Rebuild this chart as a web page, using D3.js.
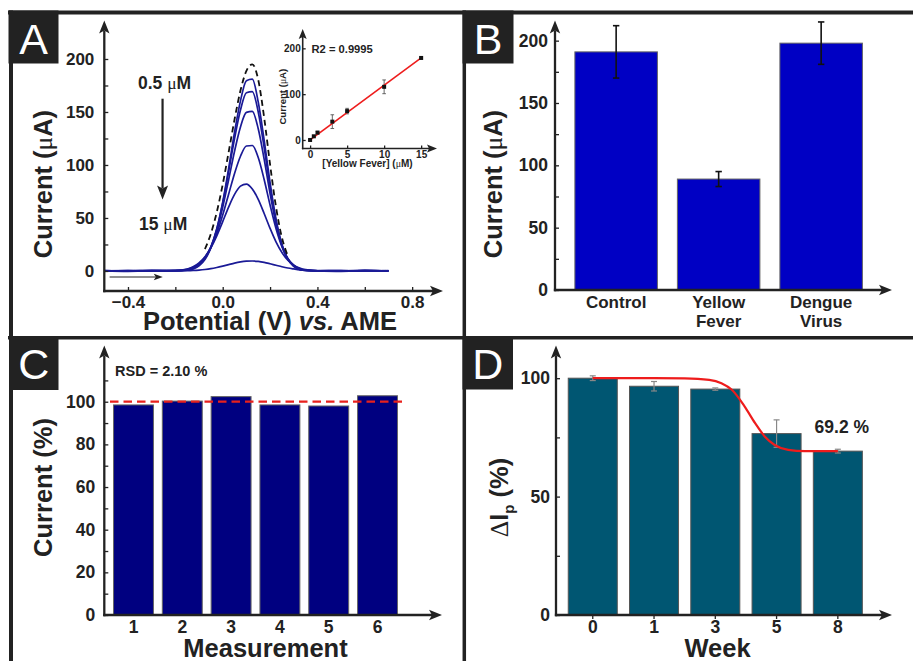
<!DOCTYPE html>
<html>
<head>
<meta charset="utf-8">
<script src="https://cdn.jsdelivr.net/npm/d3@7"></script>
<style>
  html, body { margin: 0; padding: 0; background: #fff; }
  svg { display: block; }
</style>
</head>
<body>
<svg id="fig" width="913" height="661"></svg>
<script>
// ---------- Panel A: differential pulse voltammograms ----------
const dpvPotential = [-0.5, -0.4, -0.3, -0.2, -0.15, -0.125, -0.1, -0.075, -0.05, -0.025, 0, 0.025, 0.05, 0.075,
                      0.1, 0.125, 0.15, 0.175, 0.2, 0.225, 0.25, 0.275, 0.3, 0.325, 0.35, 0.4, 0.5, 0.6, 0.7];
const dpv05uM = [0.3, -0.2, 0.4, 0.2, 0.8, 2.0, 4.9, 10.8, 21.7, 39.3, 64.8, 96.6, 130.9, 160.5,
                 179.5, 181.0, 159.4, 123.4, 83.4, 49.1, 25.3, 11.4, 4.5, 1.5, 0.5, 0.1, -0.3, 0.4, 0.2];
const dpv1uM  = [0.2, 0.4, -0.2, 0.3, 0.9, 2.4, 5.5, 11.7, 22.6, 39.8, 64.0, 93.7, 124.9, 151.8,
                 168.2, 169.2, 150.0, 116.4, 79.0, 46.9, 24.4, 11.1, 4.4, 1.5, 0.5, 0.2, 0.3, -0.2, 0.1];
const dpv3uM  = [-0.2, 0.3, 0.2, 0.4, 1.1, 2.7, 5.9, 12.1, 22.5, 38.4, 60.1, 86.1, 113.0, 135.9,
                 149.6, 150.5, 134.2, 105.5, 73.0, 44.5, 23.9, 11.3, 4.7, 1.7, 0.6, 0.3, 0.2, 0.5, -0.1];
const dpv5uM  = [0.4, 0.1, 0.5, 0.3, 1.6, 3.4, 6.8, 12.8, 22.2, 35.5, 52.7, 72.4, 92.0, 108.2,
                 117.9, 118.4, 107.0, 86.3, 62.2, 40.1, 23.0, 11.8, 5.4, 2.2, 0.8, 0.2, -0.2, 0.3, 0.2];
const dpv10uM = [0.1, -0.3, 0.3, 0.6, 1.9, 3.9, 7.6, 13.4, 21.9, 33.2, 46.6, 60.3, 72.2, 80.0,
                 82.0, 77.4, 67.5, 54.2, 40.2, 27.5, 17.4, 10.1, 5.4, 2.7, 1.2, 0.2, 0.4, -0.2, 0.3];
const dpv15uM = [0.2, 0.1, -0.2, 0.1, 0.25, 0.47, 0.84, 1.4, 2.2, 3.3, 4.6, 6.0, 7.4, 8.5,
                 9.2, 9.4, 9.0, 8.1, 6.8, 5.4, 4.0, 2.8, 1.9, 1.1, 0.7, 0.2, 0.1, 0.3, -0.1];
// blank electrode (dashed envelope)
const blankPotential = [-0.075, -0.05, -0.025, 0, 0.025, 0.05, 0.075, 0.1, 0.125, 0.15, 0.175, 0.2, 0.225, 0.25, 0.275];
const blankCurrent   = [20.7, 35.2, 55.5, 81.7, 112.0, 143.0, 170.2, 188.8, 195.0, 180.4, 144.7, 100.5, 60.5, 31.5, 14.2];
const dpvMajorY = [0, 50, 100, 150, 200];
const dpvMinorY = [25, 75, 125, 175];
const dpvMajorX = [-0.4, 0, 0.4, 0.8];
const dpvMinorX = [-0.2, 0.2, 0.6];

// inset: calibration
const calConc    = [0, 0.5, 1, 3, 5, 10, 15];
const calCurrent = [0, 8, 16, 40, 63, 116, 179];
const calError   = [1, 2, 3, 15, 6, 15, 2];
const calFitConc = [0, 15];
const calFitCurrent = [0.4, 179.2];
const calTicksX = [0, 5, 10, 15];
const calTicksY = [0, 100, 200];

// ---------- Panel B: selectivity ----------
const targets = ['Control', 'Yellow Fever', 'Dengue Virus'];
const targetCurrent = [191, 89, 198];
const targetError = [21, 6, 17];
const selMajorY = [0, 50, 100, 150, 200];
const selMinorY = [25, 75, 125, 175];

// ---------- Panel C: reproducibility ----------
const runs = ['1', '2', '3', '4', '5', '6'];
const runCurrent = [98.5, 100.3, 102.4, 98.5, 98.0, 102.8];
const runReference = 100;
const repMajorY = [0, 20, 40, 60, 80, 100];
const repMinorY = [10, 30, 50, 70, 90, 110];

// ---------- Panel D: stability ----------
const weeks = ['0', '1', '3', '5', '8'];
const retention = [100, 96.6, 95.4, 76.6, 69.2];
const retentionError = [1, 2, 0.5, 5.8, 0.8];
// sigmoidal trend, x in bar-slot units (0 = week 0 ... 4 = week 8)
const trendSlot  = [0, 1, 1.5, 1.9, 2.1, 2.27, 2.48, 2.65, 2.81, 2.97, 3.19, 3.46, 4];
const trendValue = [100, 100, 99.9, 99.3, 97.9, 95.1, 88.0, 81.0, 75.3, 71.8, 69.7, 69.2, 69.2];
const stabMajorY = [0, 50, 100];
const stabMinorY = [25, 75];

// ---------- drawing helpers ----------
const FONT = '"Liberation Sans", Arial, Helvetica, sans-serif';
const SERIF = '"Liberation Serif", "Times New Roman", serif';
const INK = '#222';
const svg = d3.select('#fig');
svg.append('rect').attr('width', 913).attr('height', 661).attr('fill', '#fff');

function arrowLine(g, x1, y1, x2, y2, o = {}) {
  const w = o.width ?? 2.3, hl = o.head ?? 13, hw = o.half ?? 5.2, notch = o.notch ?? 3;
  const a = Math.atan2(y2 - y1, x2 - x1), ux = Math.cos(a), uy = Math.sin(a);
  const px = -uy, py = ux;
  g.append('line')
    .attr('x1', x1 - ux * w / 2).attr('y1', y1 - uy * w / 2)
    .attr('x2', x2 - ux * (hl - notch)).attr('y2', y2 - uy * (hl - notch))
    .attr('stroke', o.color ?? INK).attr('stroke-width', w);
  const bx = x2 - ux * hl, by = y2 - uy * hl;
  const pts = [[x2, y2], [bx + px * hw, by + py * hw], [x2 - ux * (hl - notch), y2 - uy * (hl - notch)], [bx - px * hw, by - py * hw]];
  g.append('path').attr('d', 'M' + pts.map(p => p.join(',')).join('L') + 'Z').attr('fill', o.color ?? INK);
}

function styleAxis(g, size) {
  g.attr('font-family', FONT).attr('font-size', size).attr('font-weight', 'bold');
  g.select('.domain').remove();
  g.selectAll('.tick line').attr('stroke', INK).attr('stroke-width', 1.3);
  g.selectAll('.tick text').attr('fill', INK);
  return g;
}

// rotated axis title; parts = [[text, {attrs}], ...]
function rotatedTitle(g, x, y, parts, size) {
  const t = g.append('text')
    .attr('transform', `translate(${x},${y}) rotate(-90)`)
    .attr('text-anchor', 'middle')
    .attr('font-family', FONT).attr('font-weight', 'bold').attr('font-size', size).attr('fill', INK);
  parts.forEach(([txt, at]) => {
    const s = t.append('tspan').text(txt);
    Object.entries(at || {}).forEach(([k, v]) => s.attr(k, v));
  });
  return t;
}

function plainText(g, x, y, parts, size, anchor = 'start') {
  const t = g.append('text').attr('x', x).attr('y', y).attr('text-anchor', anchor)
    .attr('font-family', FONT).attr('font-weight', 'bold').attr('font-size', size).attr('fill', INK);
  parts.forEach(([txt, at]) => {
    const s = t.append('tspan').text(txt);
    Object.entries(at || {}).forEach(([k, v]) => s.attr(k, v));
  });
  return t;
}

const MU = { 'font-family': SERIF, 'font-weight': 'normal' };

// ---------- frame and panel letters ----------
const frame = svg.append('g').attr('stroke', INK);
frame.append('line').attr('x1', 8).attr('y1', 12.5).attr('x2', 913).attr('y2', 12.5).attr('stroke-width', 4);
frame.append('line').attr('x1', 11).attr('y1', 10.5).attr('x2', 11).attr('y2', 661).attr('stroke-width', 4);
frame.append('line').attr('x1', 464.3).attr('y1', 10.5).attr('x2', 464.3).attr('y2', 661).attr('stroke-width', 3.5);
frame.append('line').attr('x1', 8).attr('y1', 337.7).attr('x2', 913).attr('y2', 337.7).attr('stroke-width', 3.5);

const panelTags = [
  { tag: 'A', x: 8.5, y: 10.5, w: 50, h: 53 },
  { tag: 'B', x: 462.5, y: 10.5, w: 51, h: 53 },
  { tag: 'C', x: 9, y: 336, w: 49.5, h: 54 },
  { tag: 'D', x: 462.5, y: 336, w: 50.5, h: 53.5 }
];
panelTags.forEach(p => {
  svg.append('rect').attr('x', p.x).attr('y', p.y).attr('width', p.w).attr('height', p.h).attr('fill', INK);
  svg.append('text').attr('x', p.x + p.w / 2).attr('y', p.y + 43).attr('text-anchor', 'middle')
    .attr('font-family', FONT).attr('font-size', 43).attr('fill', '#fff').text(p.tag);
});

// ---------- Panel A ----------
{
  const g = svg.append('g');
  const x = d3.scaleLinear().domain([-0.5, 0.926]).range([104.3, 442]);
  const y = d3.scaleLinear().domain([-18.9, 234.9]).range([291, 22]);
  const line = d3.line().x(d => x(d[0])).y(d => y(d[1])).curve(d3.curveMonotoneX);

  [dpv15uM, dpv10uM, dpv5uM, dpv3uM, dpv1uM, dpv05uM].forEach(series => {
    g.append('path').datum(dpvPotential.map((p, i) => [p, series[i]]))
      .attr('d', line).attr('fill', 'none').attr('stroke', '#1a1a96').attr('stroke-width', 1.7);
  });
  g.append('path').datum(blankPotential.map((p, i) => [p, blankCurrent[i]]))
    .attr('d', line).attr('fill', 'none').attr('stroke', '#111').attr('stroke-width', 1.8)
    .attr('stroke-dasharray', '6,4');

  styleAxis(g.append('g').attr('transform', `translate(${x(-0.5)},0)`)
    .call(d3.axisLeft(y).tickValues(dpvMajorY).tickSize(-4).tickPadding(10)), 17);
  styleAxis(g.append('g').attr('transform', `translate(${x(-0.5)},0)`)
    .call(d3.axisLeft(y).tickValues(dpvMinorY).tickSize(-4).tickFormat('')), 17);
  styleAxis(g.append('g').attr('transform', `translate(0,${y(-18.9)})`)
    .call(d3.axisBottom(x).tickValues(dpvMajorX).tickFormat(d3.format('.1f')).tickSize(-4).tickPadding(4.5)), 17);
  styleAxis(g.append('g').attr('transform', `translate(0,${y(-18.9)})`)
    .call(d3.axisBottom(x).tickValues(dpvMinorX).tickSize(-4).tickFormat('')), 17);
  arrowLine(g, x(-0.5), y(-18.9), x(-0.5), 20.5);
  arrowLine(g, x(-0.5), y(-18.9), 443, y(-18.9));

  // concentration trend arrow and labels
  plainText(g, 138, 88.5, [['0.5 '], ['μ', MU], ['M']], 17.5);
  plainText(g, 139, 229.5, [['15 '], ['μ', MU], ['M']], 17.5);
  arrowLine(g, x(-0.254), y(161.5), x(-0.254), y(67.5), { width: 2.2, head: 14, half: 5.5, notch: 3 });
  // scan direction
  arrowLine(g, x(-0.475), y(-5.7), x(-0.253), y(-5.7), { width: 1.2, head: 9, half: 3.3, notch: 2 });

  rotatedTitle(g, 51.5, 184, [['Current ('], ['μ', MU], ['A)']], 25.5);
  plainText(g, 270, 330, [['Potential (V) '], ['vs.', { 'font-style': 'italic' }], [' AME']], 25.5, 'middle');

  // inset calibration plot
  const xi = d3.scaleLinear().domain([-1, 17.1]).range([302.7, 436.7]);
  const yi = d3.scaleLinear().domain([-18.6, 240]).range([148.5, 30]);
  styleAxis(g.append('g').attr('transform', `translate(${xi(-1)},0)`)
    .call(d3.axisLeft(yi).tickValues(calTicksY).tickSize(-3).tickPadding(2)), 10);
  styleAxis(g.append('g').attr('transform', `translate(0,${yi(-18.6)})`)
    .call(d3.axisBottom(xi).tickValues(calTicksX).tickSize(-3).tickPadding(2)), 10);
  arrowLine(g, xi(-1), yi(-18.6), xi(-1), 29, { width: 1.6, head: 10, half: 4, notch: 2 });
  arrowLine(g, xi(-1), yi(-18.6), 437, yi(-18.6), { width: 1.6, head: 10, half: 4, notch: 2 });

  calConc.forEach((c, i) => {
    const cx = xi(c), e = calError[i];
    g.append('line').attr('x1', cx).attr('x2', cx).attr('y1', yi(calCurrent[i] - e)).attr('y2', yi(calCurrent[i] + e))
      .attr('stroke', '#555').attr('stroke-width', 0.9);
    [calCurrent[i] - e, calCurrent[i] + e].forEach(v =>
      g.append('line').attr('x1', cx - 1.8).attr('x2', cx + 1.8).attr('y1', yi(v)).attr('y2', yi(v))
        .attr('stroke', '#555').attr('stroke-width', 0.9));
  });
  g.append('path').datum(calFitConc.map((c, i) => [c, calFitCurrent[i]]))
    .attr('d', d3.line().x(d => xi(d[0])).y(d => yi(d[1])))
    .attr('stroke', '#ee1c1c').attr('stroke-width', 1.6).attr('fill', 'none');
  g.selectAll('.calpt').data(calConc).join('rect').attr('class', 'calpt')
    .attr('x', d => xi(d) - 2).attr('y', (d, i) => yi(calCurrent[i]) - 2)
    .attr('width', 4).attr('height', 4).attr('fill', '#111');

  plainText(g, 311.5, 53, [['R2 = 0.9995']], 11.2);
  plainText(g, 367.5, 166.5, [['[Yellow Fever] ('], ['μ', MU], ['M)']], 10, 'middle');
  rotatedTitle(g, 285.7, 96.7, [['Current ('], ['μ', MU], ['A)']], 9.6);
}

// ---------- Panel B ----------
{
  const g = svg.append('g');
  const x = d3.scaleBand().domain(targets).range([555, 882.3]).paddingInner(0.195).paddingOuter(0.194);
  const y = d3.scaleLinear().domain([0, 215.2]).range([290, 21.7]);

  g.selectAll('.bar').data(targets).join('rect').attr('class', 'bar')
    .attr('x', d => x(d)).attr('width', x.bandwidth())
    .attr('y', (d, i) => y(targetCurrent[i])).attr('height', (d, i) => y(0) - y(targetCurrent[i]))
    .attr('fill', '#0000c4').attr('stroke', '#666').attr('stroke-width', 1);

  targets.forEach((t, i) => {
    const cx = x(t) + x.bandwidth() / 2;
    const lo = targetCurrent[i] - targetError[i], hi = targetCurrent[i] + targetError[i];
    g.append('line').attr('x1', cx).attr('x2', cx).attr('y1', y(lo)).attr('y2', y(hi)).attr('stroke', '#111').attr('stroke-width', 1.6);
    [lo, hi].forEach(v => g.append('line').attr('x1', cx - 3.2).attr('x2', cx + 3.2).attr('y1', y(v)).attr('y2', y(v))
      .attr('stroke', '#111').attr('stroke-width', 1.6));
  });

  styleAxis(g.append('g').attr('transform', `translate(555,0)`)
    .call(d3.axisLeft(y).tickValues(selMajorY).tickSize(-4).tickPadding(7)), 17.5);
  styleAxis(g.append('g').attr('transform', `translate(555,0)`)
    .call(d3.axisLeft(y).tickValues(selMinorY).tickSize(-4).tickFormat('')), 17.5);
  const xa = styleAxis(g.append('g').attr('transform', `translate(0,${y(0)})`)
    .call(d3.axisBottom(x).tickSize(0)), 17);
  xa.selectAll('.tick text').each(function (d) {
    const t = d3.select(this).text(null).attr('dy', null).attr('y', null);
    d.split(' ').forEach((w, k) => t.append('tspan').attr('x', 0).attr('y', 17.5 + k * 19.5).text(w));
  });
  arrowLine(g, 555, y(0), 555, 20.5);
  arrowLine(g, 555, y(0), 892, y(0));

  rotatedTitle(g, 501.5, 184, [['Current ('], ['μ', MU], ['A)']], 25.5);
}

// ---------- Panel C ----------
{
  const g = svg.append('g');
  const x = d3.scaleBand().domain(runs).range([104.3, 406.7]).paddingInner(0.182).paddingOuter(0.189);
  const y = d3.scaleLinear().domain([0, 125.8]).range([615, 346.7]);

  g.selectAll('.bar').data(runs).join('rect').attr('class', 'bar')
    .attr('x', d => x(d)).attr('width', x.bandwidth())
    .attr('y', (d, i) => y(runCurrent[i])).attr('height', (d, i) => y(0) - y(runCurrent[i]))
    .attr('fill', '#000080').attr('stroke', '#666').attr('stroke-width', 1);

  g.append('line').attr('x1', 110).attr('x2', 404).attr('y1', y(runReference)).attr('y2', y(runReference))
    .attr('stroke', '#e8211d').attr('stroke-width', 2.2).attr('stroke-dasharray', '8.5,5');

  styleAxis(g.append('g').attr('transform', `translate(104.3,0)`)
    .call(d3.axisLeft(y).tickValues(repMajorY).tickSize(-4).tickPadding(9)), 17.5);
  styleAxis(g.append('g').attr('transform', `translate(104.3,0)`)
    .call(d3.axisLeft(y).tickValues(repMinorY).tickSize(-4).tickFormat('')), 17.5);
  styleAxis(g.append('g').attr('transform', `translate(0,${y(0)})`)
    .call(d3.axisBottom(x).tickSize(0).tickPadding(5.5)), 17.5);
  arrowLine(g, 104.3, y(0), 104.3, 345.5);
  arrowLine(g, 104.3, y(0), 442, y(0));

  plainText(g, 115, 376, [['RSD = 2.10 %']], 14.5);
  rotatedTitle(g, 51.7, 487.5, [['Current (%)']], 25.5);
  plainText(g, 265.5, 657, [['Measurement']], 25.5, 'middle');
}

// ---------- Panel D ----------
{
  const g = svg.append('g');
  const x = d3.scaleBand().domain(weeks).range([556, 874.6]).paddingInner(0.2).paddingOuter(0.2);
  const y = d3.scaleLinear().domain([0, 113.3]).range([615, 346.7]);
  const cx = w => x(w) + x.bandwidth() / 2;

  g.selectAll('.bar').data(weeks).join('rect').attr('class', 'bar')
    .attr('x', d => x(d)).attr('width', x.bandwidth())
    .attr('y', (d, i) => y(retention[i])).attr('height', (d, i) => y(0) - y(retention[i]))
    .attr('fill', '#005672').attr('stroke', '#555').attr('stroke-width', 1);

  weeks.forEach((w, i) => {
    const lo = retention[i] - retentionError[i], hi = retention[i] + retentionError[i];
    g.append('line').attr('x1', cx(w)).attr('x2', cx(w)).attr('y1', y(lo)).attr('y2', y(hi)).attr('stroke', '#888').attr('stroke-width', 1.2);
    [lo, hi].forEach(v => g.append('line').attr('x1', cx(w) - 3).attr('x2', cx(w) + 3).attr('y1', y(v)).attr('y2', y(v))
      .attr('stroke', '#888').attr('stroke-width', 1.2));
  });

  const slotX = s => cx(weeks[0]) + s * x.step();
  g.append('path').datum(trendSlot.map((s, i) => [s, trendValue[i]]))
    .attr('d', d3.line().x(d => slotX(d[0])).y(d => y(d[1])).curve(d3.curveMonotoneX))
    .attr('fill', 'none').attr('stroke', '#ee1c1c').attr('stroke-width', 2.2);

  styleAxis(g.append('g').attr('transform', `translate(556,0)`)
    .call(d3.axisLeft(y).tickValues(stabMajorY).tickSize(-4).tickPadding(6)), 17.5);
  styleAxis(g.append('g').attr('transform', `translate(556,0)`)
    .call(d3.axisLeft(y).tickValues(stabMinorY).tickSize(-4).tickFormat('')), 17.5);
  styleAxis(g.append('g').attr('transform', `translate(0,${y(0)})`)
    .call(d3.axisBottom(x).tickSize(4).tickPadding(2)), 17.5);
  arrowLine(g, 556, y(0), 556, 345.5);
  arrowLine(g, 556, y(0), 892, y(0));

  plainText(g, cx(weeks[4]) + 4, y(retention[4]) - 18, [[retention[4].toFixed(1) + ' %']], 17.5, 'middle');
  rotatedTitle(g, 508.3, 497.5,
    [['Δ', { 'font-family': SERIF, 'font-weight': 'normal' }], ['I'], ['p', { 'font-size': 15, dy: 6 }], [' (%)', { dy: -6 }]], 25.5);
  plainText(g, 717.5, 657, [['Week']], 25.5, 'middle');
}
</script>
</body>
</html>
